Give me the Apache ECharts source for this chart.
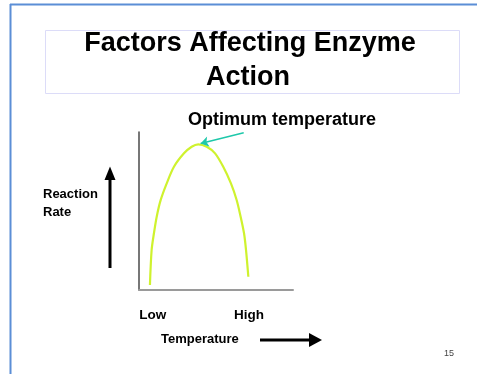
<!DOCTYPE html>
<html>
<head>
<meta charset="utf-8">
<style>
  html, body { margin: 0; padding: 0; background: #ffffff; }
  #chart { width: 477px; height: 374px; }
</style>
<script src="https://cdn.jsdelivr.net/npm/echarts@6/dist/echarts.min.js"></script>
</head>
<body>
<div id="chart"></div>
<script>
// Reaction rate against temperature (relative units, 0-100 on both axes)
const temperature = [7.1, 8.2, 9.7, 11.5, 14.1, 18.0, 22.7, 29.2, 34.2, 38.5, 44.0, 49.4, 54.7, 59.7, 63.4, 66.0, 68.2, 69.5, 71.0];
const reactionRate = [3.2, 25.3, 35.9, 46.4, 57.0, 67.5, 78.0, 86.5, 90.7, 92.2, 90.7, 86.5, 78.0, 67.5, 57.0, 46.4, 35.9, 25.3, 8.4];

// Labels along the temperature axis
const tickLabels = ['Low', 'High'];
const tickValues = [9, 71.5];

// Callout pointing at the peak of the curve
const calloutText = 'Optimum temperature';
const calloutStart = [68, 99.5];

const titleLines = ['Factors Affecting Enzyme', 'Action'];
const yLabelLines = ['Reaction', 'Rate'];
const xLabel = 'Temperature';
const pageNumber = '15';

const FONT = '"Liberation Sans", Arial, sans-serif';

const curve = temperature.map((t, i) => [t, reactionRate[i]]);
let peakIdx = 0;
reactionRate.forEach((v, i) => { if (v > reactionRate[peakIdx]) peakIdx = i; });
const peak = curve[peakIdx];

const chart = echarts.init(document.getElementById('chart'), null, { renderer: 'canvas' });

chart.setOption({
  animation: false,
  backgroundColor: '#ffffff',
  grid: { left: 139, top: 132, width: 154, height: 158 },
  xAxis: {
    type: 'value',
    min: 0,
    max: 100,
    splitLine: { show: false },
    axisTick: { show: false },
    axisLine: { show: true, lineStyle: { color: '#9a9a9a', width: 2 } },
    axisLabel: {
      customValues: tickValues,
      formatter: (v) => tickLabels[tickValues.indexOf(v)] || '',
      margin: 18,
      color: '#000000',
      fontFamily: FONT,
      fontWeight: 'bold',
      fontSize: 13.5
    }
  },
  yAxis: {
    type: 'value',
    min: 0,
    max: 100,
    splitLine: { show: false },
    axisTick: { show: false },
    axisLabel: { show: false },
    axisLine: { show: true, lineStyle: { color: '#4a4a4a', width: 1.5 } }
  },
  series: [{
    type: 'line',
    data: curve,
    smooth: 0.3,
    showSymbol: false,
    lineStyle: { color: '#cff22e', width: 2.2 },
    markLine: {
      silent: true,
      symbol: ['none', 'arrow'],
      symbolSize: 8,
      label: { show: false },
      lineStyle: { color: '#1ec8aa', width: 1.5, type: 'solid' },
      data: [[{ coord: calloutStart }, { coord: [peak[0] + 1.5, peak[1] + 0.5] }]]
    }
  }],
  graphic: [
    // slide frame
    { type: 'line', shape: { x1: 10, y1: 4.5, x2: 477, y2: 4.5 }, style: { stroke: '#5b8ed6', lineWidth: 2 } },
    { type: 'line', shape: { x1: 10.5, y1: 4, x2: 10.5, y2: 374 }, style: { stroke: '#5b8ed6', lineWidth: 2 } },
    // title box
    { type: 'rect', shape: { x: 45.5, y: 30.5, width: 414, height: 63 }, style: { fill: 'none', stroke: '#dcdcf8', lineWidth: 1 } },
    { type: 'text', x: 250, y: 43.5, style: { text: titleLines[0], font: 'bold 27px ' + FONT, fill: '#000', align: 'center', verticalAlign: 'middle' } },
    { type: 'text', x: 248, y: 77.5, style: { text: titleLines[1], font: 'bold 27px ' + FONT, fill: '#000', align: 'center', verticalAlign: 'middle' } },
    // callout text
    { type: 'text', x: 188, y: 119.7, style: { text: calloutText, font: 'bold 18px ' + FONT, fill: '#000', align: 'left', verticalAlign: 'middle' } },
    // vertical axis caption and arrow
    { type: 'text', x: 43, y: 194, style: { text: yLabelLines[0], font: 'bold 13px ' + FONT, fill: '#000', align: 'left', verticalAlign: 'middle' } },
    { type: 'text', x: 43, y: 212, style: { text: yLabelLines[1], font: 'bold 13px ' + FONT, fill: '#000', align: 'left', verticalAlign: 'middle' } },
    { type: 'line', shape: { x1: 110, y1: 268, x2: 110, y2: 178 }, style: { stroke: '#000', lineWidth: 3 } },
    { type: 'polygon', shape: { points: [[104.5, 180], [115.5, 180], [110, 166.5]] }, style: { fill: '#000' } },
    // horizontal axis caption and arrow
    { type: 'text', x: 161, y: 339.8, style: { text: xLabel, font: 'bold 13px ' + FONT, fill: '#000', align: 'left', verticalAlign: 'middle' } },
    { type: 'line', shape: { x1: 260, y1: 340, x2: 311, y2: 340 }, style: { stroke: '#000', lineWidth: 3 } },
    { type: 'polygon', shape: { points: [[309, 333], [309, 347], [322, 340]] }, style: { fill: '#000' } },
    // page number
    { type: 'text', x: 449, y: 353.5, style: { text: pageNumber, font: '9px ' + FONT, fill: '#444', align: 'center', verticalAlign: 'middle' } }
  ]
});
</script>
</body>
</html>
